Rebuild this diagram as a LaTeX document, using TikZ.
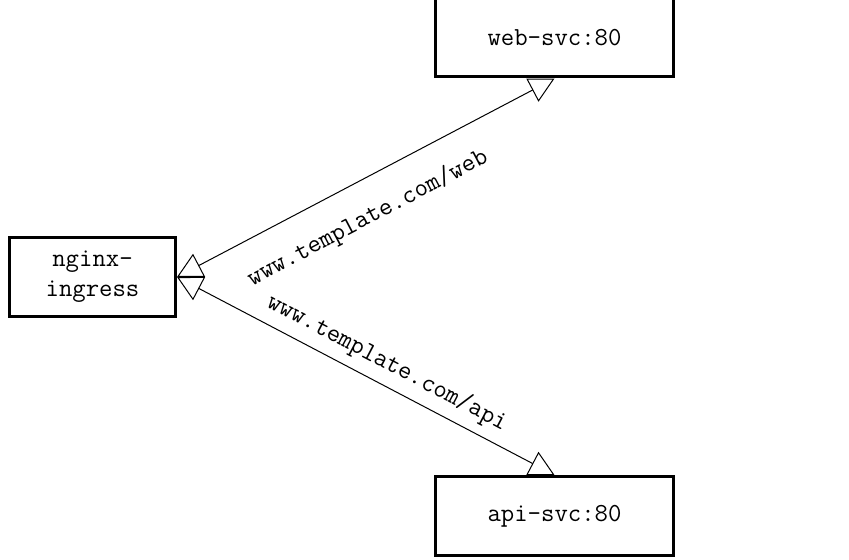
\documentclass[tikz,border=0pt]{standalone}
\usepackage{fontspec}
\usepackage{tikz}
\usetikzlibrary{arrows.meta}

\newcommand{\routefont}{\fontsize{19.5}{22.5}\selectfont\ttfamily}

\tikzset{
  svcbox/.style={draw, line width=2.25pt, minimum height=59.25pt, inner sep=0pt, align=center, font=\routefont},
  route/.style={line width=0.75pt, {Triangle[open, length=18.75pt, width=19.5pt]}-{Triangle[open, length=18.75pt, width=19.5pt]}},
  routelabel/.style={sloped, inner sep=3.33pt, font=\routefont}
}

\begin{document}
\begin{tikzpicture}[x=0.75pt,y=0.75pt]
  \useasboundingbox (0,0) rectangle (849,-560);

  % Service boxes
  \node [svcbox, minimum width=124.5pt] (ingress) at (92.5,-277) {nginx-\\ingress};
  \node [svcbox, minimum width=178.5pt] (websvc) at (554.5,-37.5) {web-svc:80};
  \node [svcbox, minimum width=178.5pt] (apisvc) at (554.5,-516) {api-svc:80};

  % Routes
  \draw [route] (ingress.east) -- node [routelabel, pos=0.46, below=15pt] {www.template.com/web} (websvc.south);
  \draw [route] (ingress.east) -- node [routelabel, pos=0.53, above=3.4pt] {www.template.com/api} (apisvc.north);

\end{tikzpicture}
\end{document}
